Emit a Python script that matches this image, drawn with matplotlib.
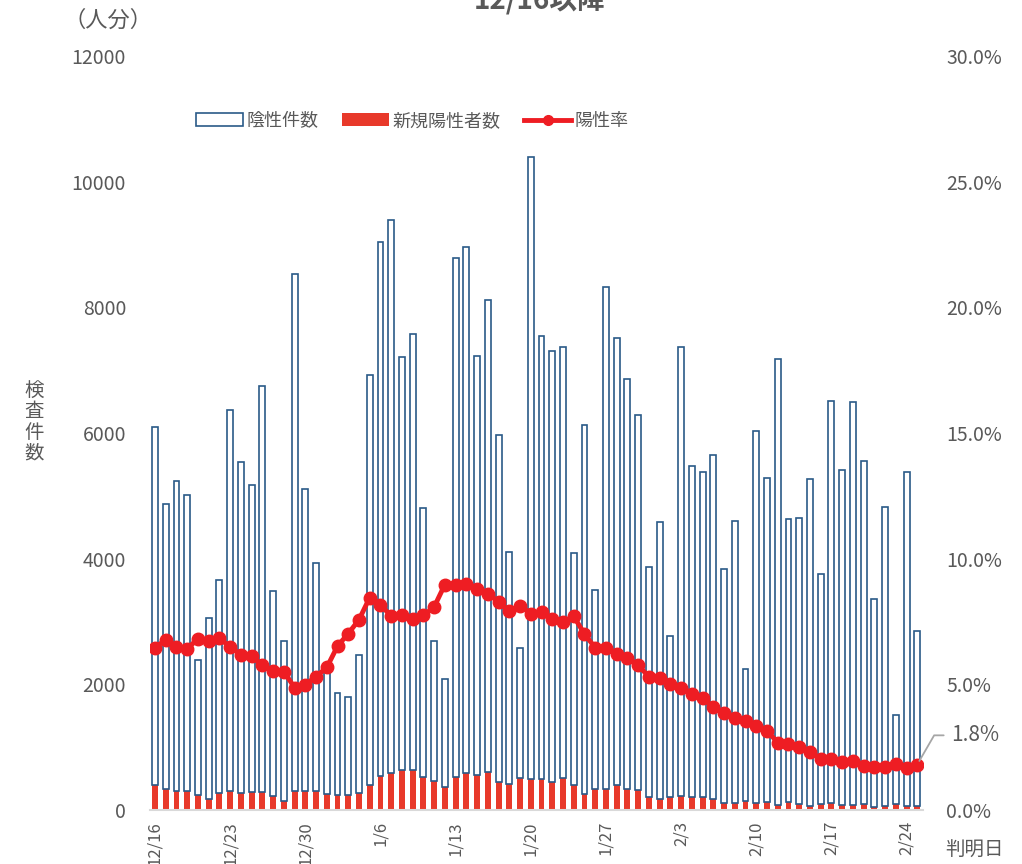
import matplotlib
matplotlib.use("Agg")
import matplotlib.pyplot as plt
from matplotlib.patches import Patch
from matplotlib.lines import Line2D
import numpy as np
import pandas as pd

plt.rcParams['font.family'] = ['Noto Sans CJK JP', 'DejaVu Sans']

# 判明日 12/16 - 2/25
dates = pd.date_range('2020-12-16', '2021-02-25', freq='D')
date_labels = [f'{d.month}/{d.day}' for d in dates]

negatives = [5713, 4533, 4931, 4704, 2153, 2870, 3382, 6068, 5258, 4888,
             6452, 3269, 2551, 8228, 4818, 3624, 1952, 1626, 1562, 2187,
             6533, 8491, 8790, 6568, 6951, 4296, 2222, 1718, 8272, 8385,
             6667, 7511, 5517, 3692, 2073, 9890, 7057, 6859, 6852, 3685,
             5871, 3166, 7980, 7122, 6532, 5971, 3671, 4417, 2570, 7136,
             5282, 5176, 5467, 3727, 4494, 2095, 5914, 5162, 7086, 4508,
             4558, 5204, 3664, 6390, 5332, 6404, 5460, 3315, 4764, 1413,
             5325, 2783]
positives = [390, 341, 298, 305, 234, 178, 277, 305, 277, 284,
             291, 220, 142, 298, 298, 305, 249, 241, 241, 277,
             390, 547, 596, 639, 632, 518, 469, 362, 518, 582,
             561, 611, 447, 412, 511, 497, 490, 440, 511, 405,
             256, 334, 341, 390, 334, 320, 199, 170, 199, 227,
             199, 199, 178, 107, 107, 142, 114, 128, 85, 128,
             92, 57, 92, 114, 85, 85, 92, 50, 57, 92,
             57, 71]
rate = [6.46, 6.77, 6.48, 6.41, 6.82, 6.71, 6.84, 6.48, 6.18, 6.11,
        5.77, 5.52, 5.51, 4.87, 4.99, 5.31, 5.67, 6.52, 7.02, 7.57,
        8.45, 8.17, 7.71, 7.76, 7.60, 7.74, 8.08, 8.97, 8.95, 9.00,
        8.81, 8.61, 8.28, 7.90, 8.13, 7.81, 7.87, 7.58, 7.49, 7.71,
        7.00, 6.46, 6.45, 6.22, 6.04, 5.75, 5.31, 5.26, 5.01, 4.85,
        4.63, 4.44, 4.10, 3.84, 3.66, 3.55, 3.34, 3.16, 2.68, 2.61,
        2.50, 2.31, 2.04, 2.04, 1.90, 1.94, 1.74, 1.70, 1.70, 1.85,
        1.67, 1.81]

grey = '#595959'
bar_red = '#E8392A'
line_red = '#EE1D23'
edge_blue = '#2A5A88'

x = np.arange(len(date_labels))

fig = plt.figure(figsize=(10.22, 8.64), dpi=100)
ax = fig.add_axes([0.1464, 0.0625, 0.7564, 0.8727])

ax.bar(x, positives, width=0.55, color=bar_red, zorder=2)
ax.bar(x, negatives, width=0.55, bottom=positives, color='white',
       edgecolor=edge_blue, linewidth=1.2, zorder=2)

ax.set_xlim(-0.5, len(x) - 0.5)
ax.set_ylim(0, 12000)
ax.set_yticks(range(0, 12001, 2000))
ax.set_xticks(x[::7])
ax.set_xticklabels(date_labels[::7], rotation=90, fontsize=12, color=grey)
ax.tick_params(axis='x', length=0, pad=8)
ax.tick_params(axis='y', length=0, pad=17, labelsize=14, labelcolor=grey)
for s in ['top', 'right', 'left']:
    ax.spines[s].set_visible(False)
ax.spines['bottom'].set_color('#d9d9d9')
ax.spines['bottom'].set_linewidth(1.5)

ax2 = ax.twinx()
ax2.plot(x, rate, color=line_red, linewidth=3.5, marker='o', markersize=9,
         zorder=3)
ax2.set_ylim(0, 30)
ax2.set_yticks(np.arange(0, 30.1, 5))
ax2.set_yticklabels([f'{v:.1f}%' for v in np.arange(0, 30.1, 5)])
ax2.tick_params(axis='y', length=0, pad=17, labelsize=14, labelcolor=grey)
for s in ['top', 'right', 'left', 'bottom']:
    ax2.spines[s].set_visible(False)

ax2.annotate(f'{rate[-1]:.1f}%', xy=(x[-1], rate[-1]), xytext=(24, 21),
             textcoords='offset points', fontsize=15, color=grey,
             va='center', ha='left',
             arrowprops=dict(arrowstyle='-', color='#a6a6a6', lw=1.3,
                             shrinkA=3, shrinkB=3,
                             connectionstyle='angle,angleA=0,angleB=60,rad=0'))

fig.text(0.528, 1.0, '12/16以降', fontsize=20, fontweight='bold',
         color=grey, ha='center', va='center')
fig.text(0.106, 0.977, '（人分）', fontsize=16, color=grey,
         ha='center', va='center')
fig.text(0.033, 0.512, '検\n査\n件\n数', fontsize=14, color=grey,
         ha='center', va='center', linespacing=1.0)
fig.text(0.954, 0.016, '判明日', fontsize=14, color=grey,
         ha='center', va='center')

handles = [Patch(facecolor='white', edgecolor=edge_blue, linewidth=1.2),
           Patch(facecolor=bar_red),
           Line2D([0], [0], color=line_red, linewidth=3.5, marker='o',
                  markersize=7)]
fig.legend(handles, ['陰性件数', '新規陽性者数', '陽性率'], ncol=3,
           loc='center left', bbox_to_anchor=(0.176, 0.86), frameon=False,
           fontsize=13, handlelength=2.6, handletextpad=0.2,
           columnspacing=1.3, labelcolor=grey)

fig.savefig('out.png', dpi=100)
